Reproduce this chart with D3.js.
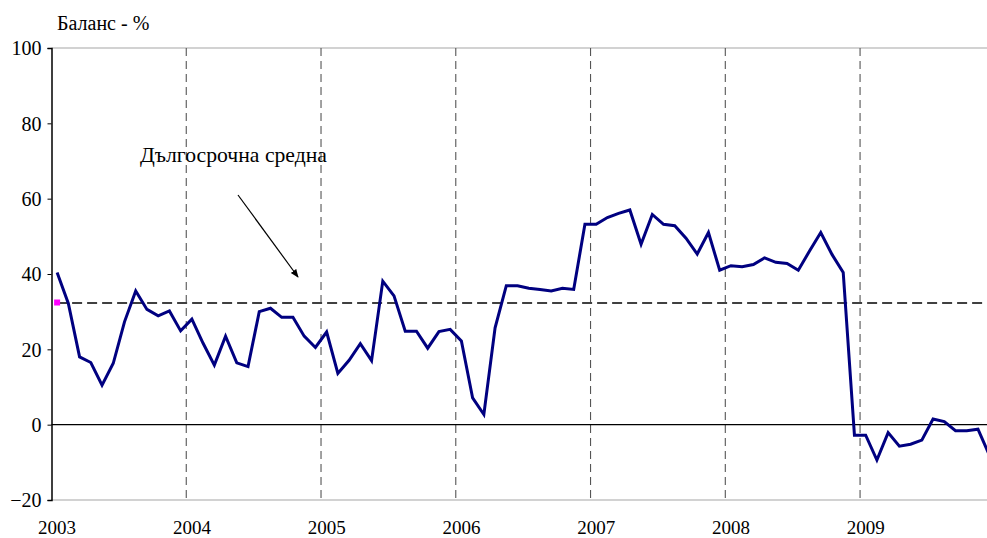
<!DOCTYPE html>
<head>
<meta charset="utf-8" />
<script src="https://d3js.org/d3.v7.min.js"></script>
<style>
    body { margin: 0; background: #fff; }
    svg { display: block; }
    svg text { font-family: "Liberation Serif", "Times New Roman", serif; fill: #000; }
</style>
</head>
<body>
<div id="chart"></div>
<script>
    // monthly balance, Jan 2003 .. Dec 2009
    var years = ["2003", "2004", "2005", "2006", "2007", "2008", "2009"];
    var balance = [
        40.4, 32.2, 18.0, 16.5, 10.5, 16.3, 27.3, 35.5, 30.6, 28.9, 30.2, 24.9,
        28.0, 21.6, 15.8, 23.5, 16.4, 15.4, 30.0, 30.9, 28.5, 28.5, 23.5, 20.5,
        24.6, 13.6, 17.1, 21.5, 17.0, 38.1, 34.2, 24.8, 24.8, 20.3, 24.7, 25.3,
        22.2, 7.1, 2.7, 25.7, 36.9, 36.9, 36.2, 35.9, 35.5, 36.2, 35.9, 53.2,
        53.2, 55.0, 56.1, 57.0, 47.9, 55.8, 53.2, 52.8, 49.5, 45.3, 51.0, 41.0,
        42.2, 41.9, 42.5, 44.3, 43.1, 42.8, 41.0, 46.1, 51.0, 45.2, 40.4, -2.8,
        -2.8, -9.4, -2.1, -5.7, -5.2, -4.1, 1.5, 0.8, -1.6, -1.6, -1.2, -8.0
    ];
    var longTermMean = 32.3;
    var yTicks = [-20, 0, 20, 40, 60, 80, 100];

    var width = 987, height = 538;

    var svg = d3.select("#chart").append("svg")
        .attr("width", width)
        .attr("height", height);

    var x = d3.scaleLinear().domain([0, 84]).range([51.5, 51.5 + 84 * 11.23]);
    var y = d3.scaleLinear().domain([-20, 100]).range([500, 48]);

    // top and bottom frame lines
    svg.append("line")
        .attr("x1", x(0)).attr("x2", width)
        .attr("y1", y(100)).attr("y2", y(100))
        .attr("stroke", "#a6a6a6").attr("stroke-width", 1.2);
    svg.append("line")
        .attr("x1", x(0)).attr("x2", width)
        .attr("y1", y(-20)).attr("y2", y(-20))
        .attr("stroke", "#a6a6a6").attr("stroke-width", 1.2);

    // year gridlines
    svg.append("g").selectAll("line")
        .data(d3.range(1, years.length))
        .join("line")
        .attr("x1", function(k) { return x(12 * k); })
        .attr("x2", function(k) { return x(12 * k); })
        .attr("y1", y(100)).attr("y2", y(-20))
        .attr("stroke", "#555")
        .attr("stroke-width", 1.1)
        .attr("stroke-dasharray", "8,5");

    // zero line
    svg.append("line")
        .attr("x1", x(0)).attr("x2", width)
        .attr("y1", y(0)).attr("y2", y(0))
        .attr("stroke", "#000").attr("stroke-width", 1.3);

    // y axis
    var yAxis = d3.axisLeft(y).tickValues(yTicks).tickSize(4).tickPadding(6);
    var gy = svg.append("g")
        .attr("transform", "translate(" + x(0) + ",0)")
        .call(yAxis);
    gy.select(".domain").attr("stroke", "#000").attr("stroke-width", 1.5);
    gy.selectAll(".tick line").attr("stroke", "#000");
    gy.selectAll("text")
        .style("font-family", "'Liberation Serif', serif")
        .style("font-size", "20px")
        .attr("dy", "0.34em");

    // year labels
    svg.append("g").selectAll("text")
        .data(years)
        .join("text")
        .attr("x", function(d, i) { return x(12 * i + 0.5); })
        .attr("y", 534)
        .attr("text-anchor", "middle")
        .style("font-size", "19px")
        .text(function(d) { return d; });

    // long term mean
    svg.append("line")
        .attr("x1", x(0.5)).attr("x2", width)
        .attr("y1", y(longTermMean)).attr("y2", y(longTermMean))
        .attr("stroke", "#404040")
        .attr("stroke-width", 1.8)
        .attr("stroke-dasharray", "10,5");
    svg.append("rect")
        .attr("x", x(0.5) - 3).attr("y", y(longTermMean) - 3.5)
        .attr("width", 6).attr("height", 6)
        .attr("fill", "#ff00ff");

    // balance line
    var line = d3.line()
        .x(function(d, i) { return x(i + 0.5); })
        .y(function(d) { return y(d); });
    svg.append("path")
        .datum(balance)
        .attr("d", line)
        .attr("fill", "none")
        .attr("stroke", "#000080")
        .attr("stroke-width", 3)
        .attr("stroke-linejoin", "miter");

    // titles
    svg.append("text")
        .attr("x", 57).attr("y", 30)
        .style("font-size", "20px")
        .text("Баланс - %");

    svg.append("text")
        .attr("x", 140).attr("y", 162)
        .style("font-size", "21.7px")
        .text("Дългосрочна средна");

    // arrow
    svg.append("defs").append("marker")
        .attr("id", "arr")
        .attr("viewBox", "0 0 10 10")
        .attr("refX", 9).attr("refY", 5)
        .attr("markerWidth", 7).attr("markerHeight", 7)
        .attr("orient", "auto")
        .append("path")
        .attr("d", "M0,1 L10,5 L0,9 Z")
        .attr("fill", "#000");
    svg.append("line")
        .attr("x1", 238).attr("y1", 195)
        .attr("x2", 298).attr("y2", 277)
        .attr("stroke", "#000").attr("stroke-width", 1.2)
        .attr("marker-end", "url(#arr)");
</script>
</body>
